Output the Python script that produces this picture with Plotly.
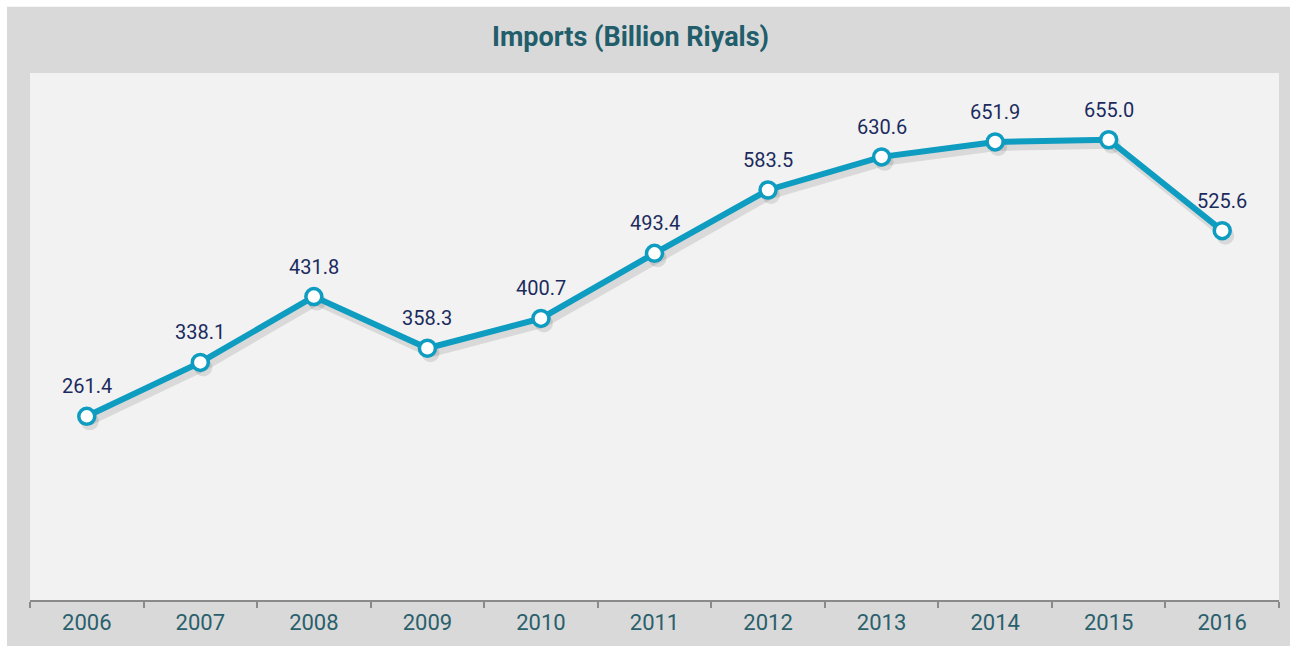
import plotly.graph_objects as go

years = ["2006", "2007", "2008", "2009", "2010", "2011", "2012", "2013", "2014", "2015", "2016"]
imports = [261.4, 338.1, 431.8, 358.3, 400.7, 493.4, 583.5, 630.6, 651.9, 655.0, 525.6]
title_text = "Imports (Billion Riyals)"

LINE = "#0e9cc0"
W, H = 1290, 646
L, R, T, B = 30, 11, 73, 41
pw, ph = W - L - R, H - T - B

def px_x(p):
    return (p - L) / pw

def px_y(p):
    return (H - B - p) / ph

YMAX = 750
sx = 3 / (pw / 11)
sy = 5 / (ph / YMAX)

fig = go.Figure()
# soft shadow on the base axes (shifted ranges), drawn beneath the overlay
fig.add_trace(go.Scatter(
    x=years, y=imports, mode="lines+markers",
    line=dict(color="rgba(0,0,0,0.10)", width=8),
    marker=dict(size=18, color="rgba(0,0,0,0.10)", line=dict(width=0)),
    hoverinfo="skip", showlegend=False,
))
fig.add_trace(go.Scatter(
    x=years, y=imports, mode="lines+markers", xaxis="x2", yaxis="y2",
    line=dict(color=LINE, width=6),
    marker=dict(size=16, color="white", line=dict(color=LINE, width=3.5)),
    hoverinfo="skip", showlegend=False,
))

annotations = []
for i, v in enumerate(imports):
    annotations.append(dict(
        x=i, y=v, xref="x2", yref="y2", text=f"{v:.1f}", showarrow=False,
        yanchor="middle", xanchor="center", yshift=30,
        font=dict(family="Roboto", size=20, color="#1b2b5e"),
    ))
annotations.append(dict(
    x=px_x(630), y=px_y(37), xref="paper", yref="paper", text=f"<b>{title_text}</b>",
    showarrow=False, xanchor="center", yanchor="middle",
    font=dict(family="Roboto", size=27, color="#215d6b"),
))

shapes = [
    dict(type="rect", xref="paper", yref="paper", x0=px_x(7), x1=px_x(1300),
         y0=px_y(660), y1=px_y(6), fillcolor="#d9d9d9", line=dict(width=0), layer="below"),
    dict(type="rect", xref="paper", yref="paper", x0=0, x1=1, y0=0, y1=1,
         fillcolor="#f2f2f2", line=dict(width=0), layer="below"),
]

fig.update_layout(
    width=W, height=H,
    margin=dict(l=L, r=R, t=T, b=B, pad=0),
    paper_bgcolor="white", plot_bgcolor="rgba(0,0,0,0)",
    shapes=shapes, annotations=annotations,
    xaxis=dict(type="category", range=[-0.5 - sx, 10.5 - sx], visible=False,
               fixedrange=True),
    yaxis=dict(range=[sy, YMAX + sy], visible=False, fixedrange=True),
    xaxis2=dict(type="category", overlaying="x", range=[-0.5, 10.5], tickson="boundaries",
                ticks="outside", ticklen=6, tickwidth=2, tickcolor="#8a8a8a",
                showline=True, linecolor="#8a8a8a", linewidth=2, showgrid=False,
                zeroline=False, fixedrange=True, side="bottom", ticklabelstandoff=2,
                tickfont=dict(family="Roboto", size=22, color="#2a5f6c")),
    yaxis2=dict(overlaying="y", range=[0, YMAX], visible=False, showgrid=False,
                zeroline=False, fixedrange=True),
)

fig.write_html(
    "out.html",
    config=dict(displayModeBar=False),
    post_script="document.body.style.margin='0';document.body.style.overflow='hidden';",
)
